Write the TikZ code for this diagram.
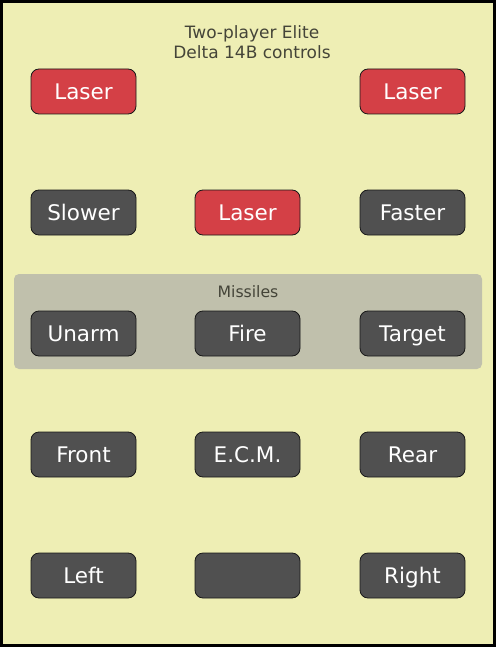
\documentclass[tikz,border=0pt]{standalone}
\usepackage{fontspec}
\setmainfont{DejaVu Sans}
\usetikzlibrary{positioning}

\definecolor{panel}{RGB}{238,238,180}
\definecolor{laserred}{RGB}{212,64,70}
\definecolor{keygrey}{RGB}{80,80,80}
\definecolor{groupgrey}{RGB}{192,192,172}
\definecolor{labelgrey}{RGB}{68,68,56}

\begin{document}
\begin{tikzpicture}[
  x=1pt, y=-1pt,
  key/.style={rectangle, rounded corners=8pt, draw=black!70!keygrey, line width=0.8pt,
    fill=keygrey, text=white, minimum width=105pt, minimum height=45pt,
    inner sep=0pt, text height=15.5pt, text depth=0pt,
    font=\fontsize{21.5}{25}\selectfont},
  laserkey/.style={key, fill=laserred},
  caption/.style={text=labelgrey, font=\fontsize{17}{19.5}\selectfont, align=center}
]
% panel and border
\useasboundingbox (0,0) rectangle (496,647);
\draw[fill=panel, line width=3pt] (1.5,1.5) rectangle (494.5,645.5);
% missile group
\fill[groupgrey, rounded corners=5pt] (14,274) rectangle (482,369);
\node[caption, font=\fontsize{15.7}{18}\selectfont] (missiles) at (248,292) {Missiles};
\node[caption] (title) at (252,42) {Two-player Elite\\Delta 14B controls};
% keys
\node[laserkey] (laserl) at (83.5,91.5) {Laser};
\node[laserkey] (laserr) at (412.5,91.5) {Laser};
\node[key] (slower) at (83.5,212.5) {Slower};
\node[laserkey] (laserc) at (247.5,212.5) {Laser};
\node[key] (faster) at (412.5,212.5) {Faster};
\node[key] (unarm) at (83.5,333.5) {Unarm};
\node[key] (fire) at (247.5,333.5) {Fire};
\node[key] (target) at (412.5,333.5) {Target};
\node[key] (front) at (83.5,454.5) {Front};
\node[key] (ecm) at (247.5,454.5) {E.C.M.};
\node[key] (rear) at (412.5,454.5) {Rear};
\node[key] (left) at (83.5,575.5) {Left};
\node[key] (blank) at (247.5,575.5) {};
\node[key] (right) at (412.5,575.5) {Right};
\end{tikzpicture}
\end{document}
